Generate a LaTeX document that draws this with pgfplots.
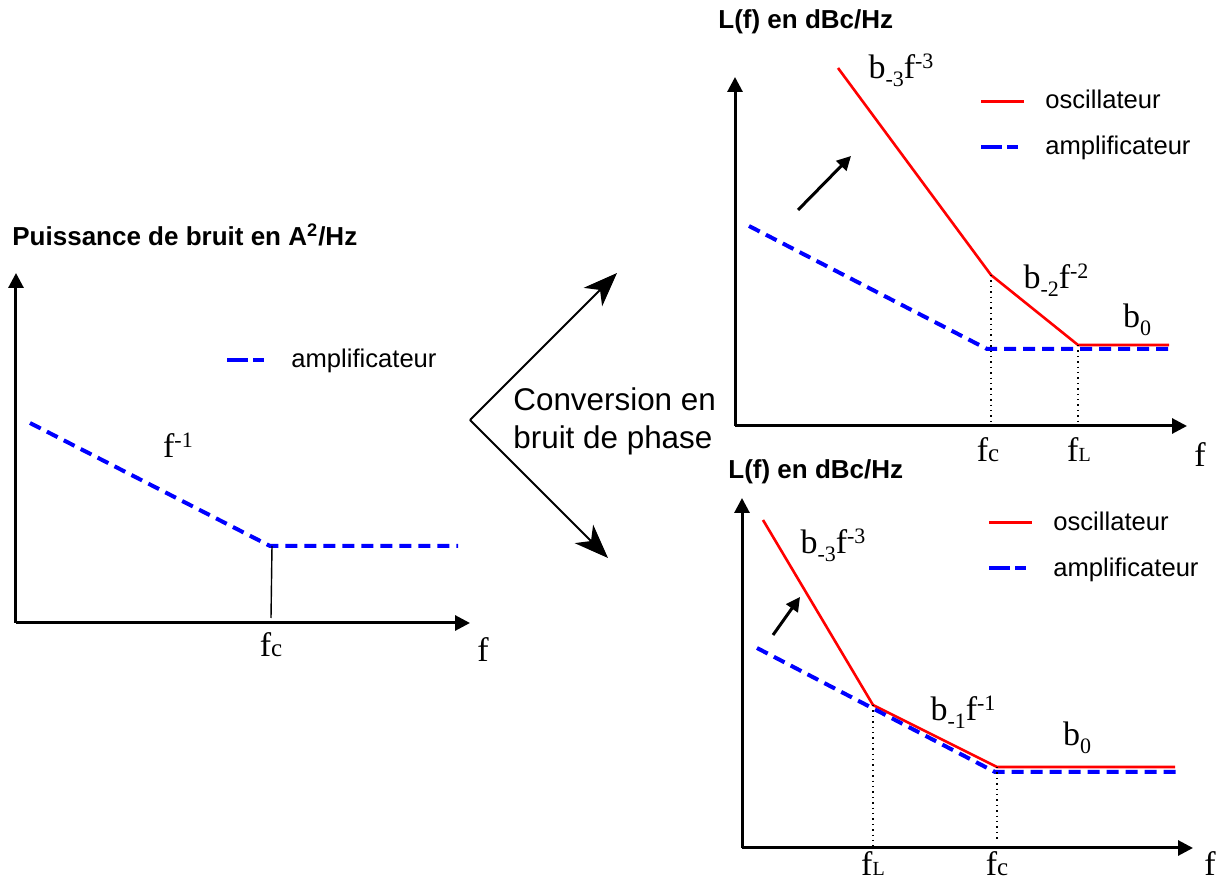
\documentclass[border=0pt]{standalone}
\usepackage{fontspec}
\setmainfont{Liberation Sans}
\newfontfamily\tnr{Liberation Serif}
\usepackage{pgfplots}
\pgfplotsset{compat=1.18}
\usetikzlibrary{arrows.meta}

\newcommand\lab{\tnr\fontsize{17}{20}\selectfont}
\newcommand\up[1]{\raisebox{5pt}{\fontsize{11}{11}\selectfont #1}}
\newcommand\dn[1]{\raisebox{-4pt}{\fontsize{11}{11}\selectfont #1}}
\newcommand\fc{f{\fontsize{12.5}{12}\selectfont c}}
\newcommand\fL{f{\fontsize{10}{10}\selectfont L}}
\newcommand\ttl{\bfseries\fontsize{13}{15}\selectfont}

\pgfplotsset{
  schema/.style={
    scale only axis, axis lines=left, xmin=0, ymin=0,
    xtick=\empty, ytick=\empty, clip=false, anchor=south west,
    axis line style={line width=1.5pt, -{Triangle[length=7.5pt,width=7.5pt]}},
    x axis line style={-{Triangle[length=7.5pt,width=7.5pt]}},
    y axis line style={-{Triangle[length=7.5pt,width=7.5pt]}},
    legend cell align=left,
    legend style={draw=none, fill=none, anchor=west, inner sep=0pt,
      font=\fontsize{12.8}{14}\selectfont, row sep=8pt},
  },
  amp/.style={blue, line width=2pt, dash pattern=on 6pt off 3.5pt,
    legend image code/.code={\draw[##1, dash pattern=on 10.5pt off 2.5pt] (0pt,0pt) -- (18.5pt,0pt); \path (29pt,0pt);}},
  osc/.style={red, line width=1.3pt,
    legend image code/.code={\draw[##1] (0pt,0pt) -- (21.5pt,0pt); \path (29pt,0pt);}},
  guide/.style={black, dotted, line width=0.7pt, forget plot},
}

\begin{document}
\begin{tikzpicture}
\useasboundingbox (0pt,0pt) rectangle (613.5pt,442pt);

% gauche : bruit de l'amplificateur
\begin{axis}[schema, at={(8pt,130.5pt)}, width=227pt, height=175pt,
  xmax=454, ymax=350, legend style={at={(axis cs:209,263)}}]
\addplot[amp] coordinates {(14,200) (254,77) (442,77)};
\addlegendentry{amplificateur}
\addplot[black, line width=0.7pt, forget plot] coordinates {(256,77) (255,5)};
\node[font=\lab] at (axis cs:162,178) {f\up{-1}};
\node[font=\lab] at (axis cs:255,-22) {\fc};
\node[font=\lab] at (axis cs:467,-27) {f};
\end{axis}
\node[anchor=west, font=\ttl, inner sep=0pt] at (6pt,324.5pt) {Puissance de bruit en A\textsuperscript{2}/Hz};

% conversion
\draw[line width=1pt, -{Stealth[length=17pt,width=13pt,inset=5pt]}] (235pt,232pt) -- (308.5pt,305.5pt);
\draw[line width=1pt, -{Stealth[length=17pt,width=13pt,inset=5pt]}] (235pt,232pt) -- (304pt,163pt);
\node[anchor=west, align=left, inner sep=0pt, font=\fontsize{15.7}{19}\selectfont] at (256.5pt,231.5pt) {Conversion en\\bruit de phase};

% haut droite : fc < fL
\begin{axis}[schema, at={(367.5pt,229pt)}, width=226pt, height=174.5pt,
  xmax=452, ymax=349, legend style={at={(axis cs:244,302)}}]
\addplot[osc] coordinates {(103,358) (256,151) (343,81) (434,81)};
\addlegendentry{oscillateur}
\addplot[amp] coordinates {(14,200) (252,77) (438,77)};
\addlegendentry{amplificateur}
\addplot[guide] coordinates {(256,151) (256,4)};
\addplot[guide] coordinates {(343,81) (343,4)};
\draw[line width=1.5pt, -{Triangle[length=7pt,width=7pt]}] (axis cs:63,216) -- (axis cs:116,270);
\node[font=\lab] at (axis cs:166,356) {b\dn{-3}f\up{-3}};
\node[font=\lab] at (axis cs:321,146) {b\dn{-2}f\up{-2}};
\node[font=\lab] at (axis cs:402,106) {b\dn{0}};
\node[font=\lab] at (axis cs:253,-24) {\fc};
\node[font=\lab] at (axis cs:344,-24) {\fL};
\node[font=\lab] at (axis cs:465,-29) {f};
\end{axis}
\node[anchor=west, font=\ttl, inner sep=0pt] at (359pt,431pt) {L(f) en dBc/Hz};

% bas droite : fL < fc
\begin{axis}[schema, at={(371pt,18pt)}, width=225.5pt, height=175pt,
  xmax=451, ymax=350, legend style={at={(axis cs:245,302.5)}}]
\addplot[osc] coordinates {(21,328) (131,143) (255,81) (433,81)};
\addlegendentry{oscillateur}
\addplot[amp] coordinates {(15,200) (253,76) (438,76)};
\addlegendentry{amplificateur}
\addplot[guide] coordinates {(131,143) (131,0)};
\addplot[guide] coordinates {(255,81) (255,6)};
\draw[line width=1.5pt, -{Triangle[length=7pt,width=7pt]}] (axis cs:31,213) -- (axis cs:58,251);
\node[font=\lab] at (axis cs:91,303) {b\dn{-3}f\up{-3}};
\node[font=\lab] at (axis cs:221,136) {b\dn{-1}f\up{-1}};
\node[font=\lab] at (axis cs:335,110) {b\dn{0}};
\node[font=\lab] at (axis cs:131,-16) {\fL};
\node[font=\lab] at (axis cs:255,-16) {\fc};
\node[font=\lab] at (axis cs:468,-16) {f};
\end{axis}
\node[anchor=west, font=\ttl, inner sep=0pt] at (364pt,206pt) {L(f) en dBc/Hz};
\end{tikzpicture}
\end{document}
